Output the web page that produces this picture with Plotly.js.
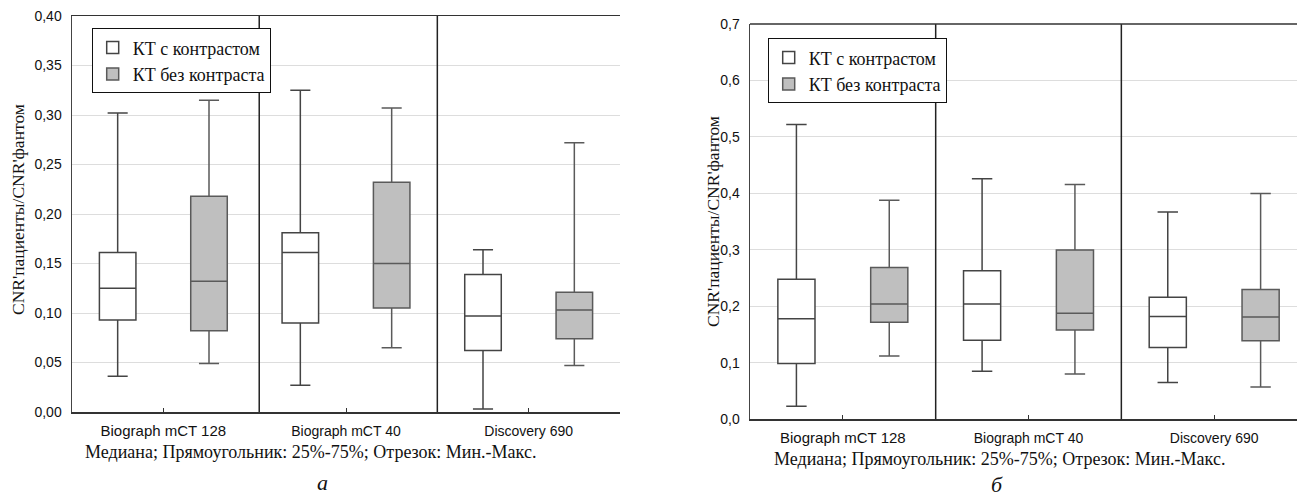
<!DOCTYPE html>
<html>
<head>
<meta charset="utf-8">
<script src="https://cdn.plot.ly/plotly-3.0.1.min.js"></script>
<style>html,body{margin:0;padding:0;background:#fff;}#chart{width:1297px;height:499px;}</style>
</head>
<body>
<div id="chart"></div>
<script>
// Categories (scanners)
const categories = ['Biograph mCT 128', 'Biograph mCT 40', 'Discovery 690'];
const seriesNames = ['КТ с контрастом', 'КТ без контраста'];

// Panel а — with contrast
const aWithMin = [0.036, 0.027, 0.003];
const aWithQ1  = [0.093, 0.090, 0.062];
const aWithMed = [0.125, 0.161, 0.097];
const aWithQ3  = [0.161, 0.181, 0.139];
const aWithMax = [0.302, 0.325, 0.164];
// Panel а — without contrast
const aNoMin = [0.049, 0.065, 0.047];
const aNoQ1  = [0.082, 0.105, 0.074];
const aNoMed = [0.132, 0.150, 0.103];
const aNoQ3  = [0.218, 0.232, 0.121];
const aNoMax = [0.315, 0.307, 0.272];

// Panel б — with contrast
const bWithMin = [0.023, 0.085, 0.065];
const bWithQ1  = [0.099, 0.140, 0.127];
const bWithMed = [0.178, 0.204, 0.182];
const bWithQ3  = [0.248, 0.263, 0.216];
const bWithMax = [0.522, 0.426, 0.367];
// Panel б — without contrast
const bNoMin = [0.112, 0.080, 0.057];
const bNoQ1  = [0.172, 0.158, 0.139];
const bNoMed = [0.204, 0.188, 0.181];
const bNoQ3  = [0.269, 0.300, 0.230];
const bNoMax = [0.388, 0.416, 0.400];

const yTitle = "CNR'пациенты/CNR'фантом";
const footnote = 'Медиана; Прямоугольник: 25%-75%; Отрезок: Мин.-Макс.';
const panelLabels = ['а', 'б'];

const W = 1297, H = 499;
const serif = 'Liberation Serif, Times New Roman, serif';
const sans = 'Liberation Sans, Arial, sans-serif';

function boxTrace(name, q1, med, q3, lo, hi, fill, lineColor, xa, ya, legend, align, offs) {
  return {
    type: 'box', name: name, x: categories,
    q1: q1, median: med, q3: q3, lowerfence: lo, upperfence: hi,
    xaxis: xa, yaxis: ya, legend: legend, showlegend: true,
    alignmentgroup: align, offsetgroup: offs,
    fillcolor: fill, line: {color: lineColor, width: 1.5},
    whiskerwidth: 0.55, boxpoints: false, hoverinfo: 'skip'
  };
}

const data = [
  boxTrace(seriesNames[0], aWithQ1, aWithMed, aWithQ3, aWithMin, aWithMax, '#ffffff', '#444444', 'x', 'y', 'legend', 'A', 'with'),
  boxTrace(seriesNames[1], aNoQ1, aNoMed, aNoQ3, aNoMin, aNoMax, '#bfbfbf', '#5a5a5a', 'x', 'y', 'legend', 'A', 'without'),
  boxTrace(seriesNames[0], bWithQ1, bWithMed, bWithQ3, bWithMin, bWithMax, '#ffffff', '#444444', 'x2', 'y2', 'legend2', 'B', 'with'),
  boxTrace(seriesNames[1], bNoQ1, bNoMed, bNoQ3, bNoMin, bNoMax, '#bfbfbf', '#5a5a5a', 'x2', 'y2', 'legend2', 'B', 'without')
];

const tickText = categories.map((c, i) => i === 0 ? c : '<span style="font-size:14px">' + c + '</span>');

function xAxis(domain, range, anchor) {
  return {
    domain: domain, anchor: anchor, type: 'category', range: range,
    tickvals: categories, ticktext: tickText,
    ticks: 'inside', ticklen: 4, tickcolor: '#333',
    showline: true, linecolor: '#333', linewidth: 1.5, mirror: true,
    showgrid: false, zeroline: false, fixedrange: true,
    tickfont: {family: sans, size: 15, color: '#111'}, ticklabelstandoff: 4
  };
}
function yAxis(domain, range, dtick, fmt, anchor) {
  return {
    domain: domain, anchor: anchor, range: range, dtick: dtick, tick0: 0, tickformat: fmt,
    showline: true, linecolor: '#444', linewidth: 1.5, mirror: false,
    showgrid: true, gridcolor: '#dddddd', gridwidth: 1, zeroline: false,
    ticks: '', ticklabelstandoff: 6, fixedrange: true,
    tickfont: {family: sans, size: 14, color: '#111'}
  };
}

const xa1 = [72 / W, 620 / W], ya1 = [(H - 412) / H, (H - 16) / H];
const xa2 = [750 / W, 1], ya2 = [(H - 419.3) / H, (H - 24) / H];

const legendStyle = {
  xanchor: 'left', yanchor: 'top',
  bgcolor: '#fff', bordercolor: '#111', borderwidth: 1,
  font: {family: serif, size: 18, color: '#111'}, tracegroupgap: 0, itemwidth: 30
};

const layout = {
  width: W, height: H,
  margin: {l: 0, r: 0, t: 0, b: 0},
  paper_bgcolor: '#fff', plot_bgcolor: '#fff',
  separators: ', ',
  boxmode: 'group', boxgap: 0, boxgroupgap: 0.6,
  font: {family: sans, color: '#111'},
  xaxis: xAxis(xa1, [-0.5, 2.5], 'y'),
  yaxis: yAxis(ya1, [0, 0.40], 0.05, '.2f', 'x'),
  xaxis2: Object.assign(xAxis(xa2, [-0.5, 2.446], 'y2'), {mirror: false}),
  yaxis2: yAxis(ya2, [0, 0.7], 0.1, '.1f', 'x2'),
  legend: Object.assign({x: 91.7 / W, y: (H - 28.3) / H}, legendStyle),
  legend2: Object.assign({x: 767.7 / W, y: (H - 38.3) / H}, legendStyle),
  shapes: [
    {type: 'line', xref: 'x', yref: 'y domain', x0: 0.525, x1: 0.525, y0: 0, y1: 1, line: {color: '#222', width: 1.5}},
    {type: 'line', xref: 'x', yref: 'y domain', x0: 1.5, x1: 1.5, y0: 0, y1: 1, line: {color: '#222', width: 1.5}},
    {type: 'line', xref: 'x2', yref: 'y2 domain', x0: 0.5, x1: 0.5, y0: 0, y1: 1, line: {color: '#222', width: 1.5}},
    {type: 'line', xref: 'x2', yref: 'y2 domain', x0: 1.5, x1: 1.5, y0: 0, y1: 1, line: {color: '#222', width: 1.5}},
    {type: 'line', xref: 'x2 domain', yref: 'y2 domain', x0: 0, x1: 1, y0: 1, y1: 1, line: {color: '#333', width: 1.5}}
  ],
  annotations: [
    {text: yTitle, xref: 'paper', yref: 'paper', x: 18 / W, y: (H - 210) / H, textangle: -90, showarrow: false,
     xanchor: 'center', yanchor: 'middle', font: {family: serif, size: 17.5, color: '#111'}},
    {text: yTitle, xref: 'paper', yref: 'paper', x: 713 / W, y: (H - 222) / H, textangle: -90, showarrow: false,
     xanchor: 'center', yanchor: 'middle', font: {family: serif, size: 17.5, color: '#111'}},
    {text: footnote, xref: 'paper', yref: 'paper', x: 310 / W, y: (H - 452) / H, showarrow: false,
     xanchor: 'center', yanchor: 'middle', font: {family: serif, size: 18, color: '#111'}},
    {text: footnote, xref: 'paper', yref: 'paper', x: 999 / W, y: (H - 459) / H, showarrow: false,
     xanchor: 'center', yanchor: 'middle', font: {family: serif, size: 18, color: '#111'}},
    {text: '<i>' + panelLabels[0] + '</i>', xref: 'paper', yref: 'paper', x: 322 / W, y: (H - 482) / H, showarrow: false,
     xanchor: 'center', yanchor: 'middle', font: {family: serif, size: 22, color: '#111'}},
    {text: '<i>' + panelLabels[1] + '</i>', xref: 'paper', yref: 'paper', x: 997 / W, y: (H - 484) / H, showarrow: false,
     xanchor: 'center', yanchor: 'middle', font: {family: serif, size: 22, color: '#111'}}
  ]
};

Plotly.newPlot('chart', data, layout, {staticPlot: true, displayModeBar: false});
</script>
</body>
</html>
